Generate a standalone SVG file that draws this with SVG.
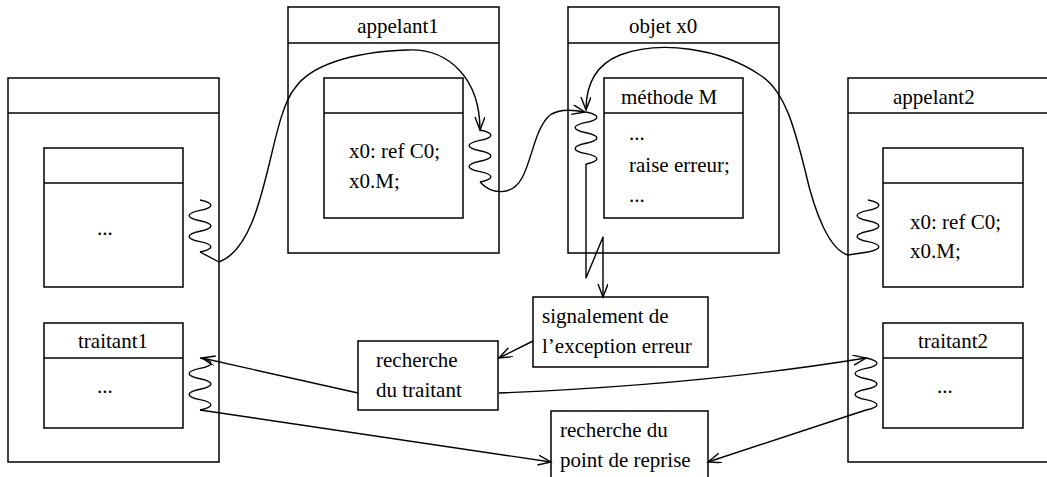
<svg xmlns="http://www.w3.org/2000/svg" xmlns:xlink="http://www.w3.org/1999/xlink" width="1047" height="477" viewBox="0 0 1047 477">
<style>
.box{fill:none;stroke:#000;stroke-width:1.5}
.t{font-family:'Liberation Serif','Times New Roman',serif;font-size:21px;fill:#000}
.m{text-anchor:middle}
.c{fill:none;stroke:#000;stroke-width:1.4;stroke-linejoin:round}
</style>
<defs>
<marker id="ah" markerUnits="userSpaceOnUse" markerWidth="16" markerHeight="12" refX="13" refY="5" orient="auto">
<path d="M0,0 L13,5 L0,10" fill="none" stroke="#000" stroke-width="1.4"/>
</marker>
<path id="sq" class="c" d="M0,0 C14.5,3 14.5,7.4 0,10.4 C-14.5,13.4 -14.5,17.8 0,20.8 C14.5,23.8 14.5,28.2 0,31.2 C-14.5,34.2 -14.5,38.6 0,41.6 C14.5,44.6 14.5,49 0,52"/>
</defs>
<rect width="1047" height="477" fill="#fff"/>

<g id="bloc-gauche">
<rect class="box" x="8" y="78" width="211" height="384"/>
<line class="box" x1="8" y1="113" x2="219" y2="113"/>
</g>
<g id="bloc-gauche-interne">
<rect class="box" x="44" y="148" width="139" height="139"/>
<line class="box" x1="44" y1="183" x2="183" y2="183"/>
<text class="t" x="97" y="235">...</text>
</g>
<g id="traitant1">
<rect class="box" x="44" y="323" width="139" height="105"/>
<line class="box" x1="44" y1="358" x2="183" y2="358"/>
<text class="t m" x="113" y="348">traitant1</text>
<text class="t" x="97" y="393">...</text>
</g>

<g id="appelant1">
<rect class="box" x="288" y="7" width="211" height="246"/>
<line class="box" x1="288" y1="43" x2="499" y2="43"/>
<text class="t m" x="398" y="33">appelant1</text>
</g>
<g id="appelant1-corps">
<rect class="box" x="324" y="78" width="139" height="140"/>
<line class="box" x1="324" y1="113" x2="463" y2="113"/>
<text class="t" x="349" y="158">x0: ref C0;</text>
<text class="t" x="349" y="188">x0.M;</text>
</g>

<g id="objet-x0">
<rect class="box" x="568" y="7" width="211" height="246"/>
<line class="box" x1="568" y1="43" x2="779" y2="43"/>
<text class="t" x="629" y="33">objet x0</text>
</g>
<g id="methode-M">
<rect class="box" x="604" y="78" width="139" height="140"/>
<line class="box" x1="604" y1="113" x2="743" y2="113"/>
<text class="t" x="621" y="104">méthode M</text>
<text class="t" x="629" y="140">...</text>
<text class="t" x="629" y="172">raise erreur;</text>
<text class="t" x="629" y="202">...</text>
</g>

<g id="appelant2">
<rect class="box" x="848" y="78" width="211" height="384"/>
<line class="box" x1="848" y1="113" x2="1059" y2="113"/>
<text class="t" x="893" y="104">appelant2</text>
</g>
<g id="appelant2-corps">
<rect class="box" x="883" y="148" width="140" height="139"/>
<line class="box" x1="883" y1="183" x2="1023" y2="183"/>
<text class="t" x="910" y="229">x0: ref C0;</text>
<text class="t" x="910" y="258">x0.M;</text>
</g>
<g id="traitant2">
<rect class="box" x="883" y="323" width="140" height="105"/>
<line class="box" x1="883" y1="358" x2="1023" y2="358"/>
<text class="t m" x="953" y="348">traitant2</text>
<text class="t" x="937" y="393">...</text>
</g>

<g id="signalement">
<rect class="box" x="533" y="297" width="175" height="70"/>
<text class="t" x="542" y="323">signalement de</text>
<text class="t" x="542" y="353">l’exception erreur</text>
</g>
<g id="recherche-traitant">
<rect class="box" x="358" y="341" width="140" height="69"/>
<text class="t" x="376" y="367">recherche</text>
<text class="t" x="376" y="397">du traitant</text>
</g>
<g id="recherche-reprise">
<rect class="box" x="551" y="411" width="157" height="90"/>
<text class="t" x="560" y="437">recherche du</text>
<text class="t" x="560" y="467">point de reprise</text>
</g>

<g id="connecteurs">
<use xlink:href="#sq" href="#sq" transform="translate(200,200)"/>
<use xlink:href="#sq" href="#sq" transform="translate(480,130)"/>
<use xlink:href="#sq" href="#sq" transform="translate(586,112)"/>
<use xlink:href="#sq" href="#sq" transform="translate(868,200)"/>
<use xlink:href="#sq" href="#sq" transform="translate(200,358)"/>
<use xlink:href="#sq" href="#sq" transform="translate(866,358)"/>
<path class="c" marker-end="url(#ah)" d="M200,252 L219,262 C268,244 268,120 295,88 C310,66 350,52 407,50 C450,48 480,80 480,130"/>
<path class="c" marker-end="url(#ah)" d="M480,182 C492,195 512,196 522,178 C532,160 535,128 550,115 C560,108 575,110 585,112"/>
<path class="c" marker-end="url(#ah)" d="M868,252 L848,255 C830,250 815,215 805,170 C795,130 785,90 760,75 C720,48 660,40 620,55 C595,65 586,85 586,110"/>
<path class="c" marker-end="url(#ah)" d="M586,164 L586,278 L603,237 L603,297"/>
<path class="c" marker-end="url(#ah)" d="M533,341 L499,358"/>
<path class="c" marker-end="url(#ah)" d="M358,393 L202,358"/>
<path class="c" marker-end="url(#ah)" d="M499,393 Q700,385 866,358"/>
<path class="c" marker-end="url(#ah)" d="M200,410 L551,462"/>
<path class="c" marker-end="url(#ah)" d="M866,410 L708,462"/>
</g>
</svg>
